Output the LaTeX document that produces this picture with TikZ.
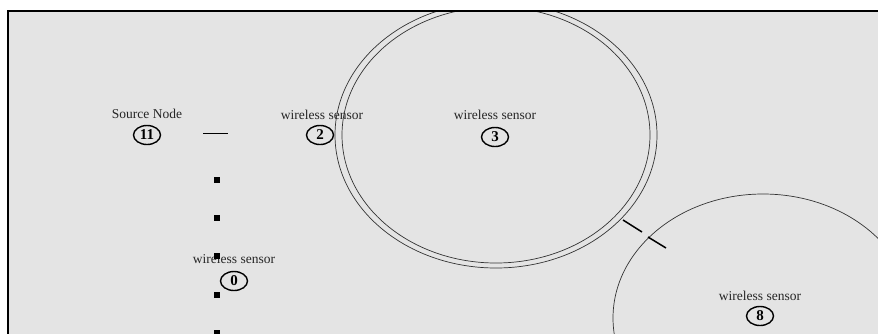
\documentclass[tikz,border=0pt]{standalone}
\usepackage{fontspec}
\setmainfont{Liberation Serif}
\usetikzlibrary{shapes.geometric}
\definecolor{panel}{HTML}{E4E4E4}
\definecolor{ring}{HTML}{333333}
\tikzset{
  sensor/.style={draw=black, line width=1.4pt, ellipse, minimum width=27pt, minimum height=19pt, inner sep=0pt, font=\fontsize{15}{15}\selectfont\bfseries},
  lbl/.style={font=\fontsize{13.5}{13.5}\selectfont, text=black!85, inner sep=0pt},
  ringline/.style={draw=ring, line width=0.7pt},
  blip/.style={fill=black, draw=none, minimum size=6.5pt, inner sep=0pt, rectangle},
  tickline/.style={line width=1.5pt}
}
\begin{document}
\begin{tikzpicture}[x=1pt,y=-1pt]
\useasboundingbox (0,0) rectangle (878,333);
\fill[white] (0,0) rectangle (878,333);
\fill[panel] (8,11) rectangle (880,335);
\begin{scope}
\clip (8,11) rectangle (880,335);
% range rings
\draw[ringline] (496,135) ellipse [x radius=161, y radius=133];
\draw[ringline] (496,135) ellipse [x radius=154, y radius=128];
\draw[ringline] (763,318) ellipse [x radius=150, y radius=124];
% labels
\node[lbl] (l11) at (147,114) {Source Node};
\node[lbl] (l2) at (322,115) {wireless sensor};
\node[lbl] (l3) at (495,115) {wireless sensor};
\node[lbl] (l0) at (234,259) {wireless sensor};
\node[lbl] (l8) at (760,296) {wireless sensor};
% sensors
\node[sensor] (n11) at (147,135) {11};
\node[sensor] (n2) at (320,135) {2};
\node[sensor] (n3) at (495,137) {3};
\node[sensor] (n0) at (234,281) {0};
\node[sensor] (n8) at (760,316) {8};
% short link segment
\coordinate (s1) at (203,133);
\coordinate (s2) at (228,133);
\draw[line width=1pt] (s1) -- (s2);
% ticks between rings
\coordinate (t1) at (623,220);
\coordinate (t2) at (642,232);
\coordinate (t3) at (648,237);
\coordinate (t4) at (666,248);
\draw[tickline] (t1) -- (t2);
\draw[tickline] (t3) -- (t4);
% squares
\node[blip] (q1) at (217,180) {};
\node[blip] (q2) at (217,218) {};
\node[blip] (q3) at (217,256) {};
\node[blip] (q4) at (217,295) {};
\node[blip] (q5) at (217,333) {};
\end{scope}
% frame
\draw[line width=1.6pt, line cap=rect] (8,336) -- (8,11) -- (880,11);
\end{tikzpicture}
\end{document}
